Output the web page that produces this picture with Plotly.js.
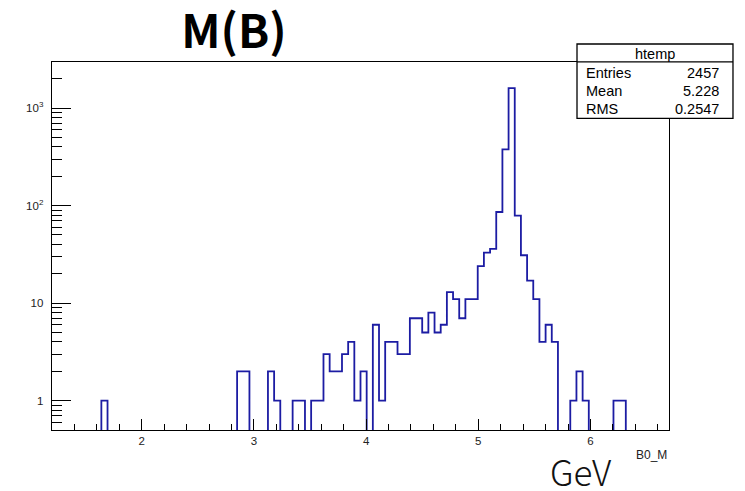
<!DOCTYPE html>
<html>
<head>
<meta charset="utf-8">
<script src="https://cdn.plot.ly/plotly-3.0.1.min.js"></script>
<style>
  html, body { margin: 0; padding: 0; background: #ffffff; }
  #plot { width: 745px; height: 491px; }
</style>
</head>
<body>
<div id="plot"></div>
<script>
// Histogram of B0_M: 100 bins between xMin and xMax
const xMin = 1.2;
const xMax = 6.7;
const binCounts = [
  0, 0, 0, 0, 0, 0, 0, 0, 1, 0,
  0, 0, 0, 0, 0, 0, 0, 0, 0, 0,
  0, 0, 0, 0, 0, 0, 0, 0, 0, 0,
  2, 2, 0, 0, 0, 2, 1, 0, 0, 1,
  1, 0, 1, 1, 3, 2, 2, 3, 4, 1,
  2, 0, 6, 1, 4, 4, 3, 3, 7, 7,
  5, 8, 5, 6, 13, 11, 7, 11, 11, 24,
  33, 36, 86, 378, 1600, 79, 31, 17, 11, 4,
  6, 4, 0, 0, 1, 2, 1, 0, 0, 0,
  0, 1, 1, 0, 0, 0, 0, 0, 0, 0
];

const xTickVals = [2, 3, 4, 5, 6];
const yTickVals = [1, 10, 100, 1000];
const yTickText = ['1', '10', '10<sup>2</sup>', '10<sup>3</sup>'];

const histName = 'htemp';
const statNames = ['Entries', 'Mean', 'RMS'];
const statValues = ['2457', '5.228', '0.2547'];

const titleText = 'M(B)';
const unitText = 'GeV';
const varName = 'B0_M';

// ---- step outline from the bin edges ----
const nBins = binCounts.length;
const binWidth = (xMax - xMin) / nBins;
const edges = [];
for (let i = 0; i <= nBins; i++) edges.push(xMin + i * binWidth);
// empty bins sit below the visible log range so the outline drops to the axis
const emptyLevel = 0.3;
const stepY = binCounts.map(c => (c > 0 ? c : emptyLevel));
stepY.push(stepY[stepY.length - 1]);

// minor ticks on the log axis: 2..9 within each decade
const yMinorVals = [];
for (let d = -1; d <= 3; d++) {
  for (let m = 2; m <= 9; m++) {
    const v = m * Math.pow(10, d);
    if (v > 0.5 && v < 2970) yMinorVals.push(v);
  }
}

const lineBlue = '#1c1ca3';
const frameColor = '#000000';
const labelFont = { family: 'Liberation Sans, Arial, sans-serif', size: 11.5, color: '#222222' };
const statFont = { family: 'Liberation Sans, Arial, sans-serif', size: 14.5, color: '#000000' };

const trace = {
  x: edges,
  y: stepY,
  type: 'scatter',
  mode: 'lines',
  line: { shape: 'hv', color: lineBlue, width: 1.8 },
  hoverinfo: 'skip',
  showlegend: false
};

// stats box geometry, in paper coordinates of the frame
const boxX0 = 0.8509, boxX1 = 1.1037;
const boxY0 = 0.847, boxY1 = 1.0489, boxSep = 1.0005;
const rowY = [0.9693, 0.9212, 0.8715];

const annotations = [
  {
    xref: 'paper', yref: 'paper', x: (boxX0 + boxX1) / 2, y: 1.0217,
    text: histName, showarrow: false, xanchor: 'center', yanchor: 'middle',
    font: statFont
  }
];
statNames.forEach((name, i) => {
  annotations.push({
    xref: 'paper', yref: 'paper', x: 0.8625, y: rowY[i],
    text: name, showarrow: false, xanchor: 'left', yanchor: 'middle', font: statFont
  });
  annotations.push({
    xref: 'paper', yref: 'paper', x: 1.0850, y: rowY[i],
    text: statValues[i], showarrow: false, xanchor: 'right', yanchor: 'middle', font: statFont
  });
});
// unit and variable name under the x axis
annotations.push({
  xref: 'paper', yref: 'paper', x: 0.857, y: -0.109,
  text: unitText, showarrow: false, xanchor: 'center', yanchor: 'middle',
  font: { family: 'Noto Sans CJK JP, Noto Sans, sans-serif', size: 35, color: '#111111', weight: 300 }
});
annotations.push({
  xref: 'paper', yref: 'paper', x: 1.0, y: -0.068,
  text: varName, showarrow: false, xanchor: 'right', yanchor: 'middle',
  font: { family: 'Liberation Sans, Arial, sans-serif', size: 12, color: '#222222' }
});

const shapes = [
  {
    type: 'rect', xref: 'paper', yref: 'paper',
    x0: boxX0, x1: boxX1, y0: boxY0, y1: boxY1,
    fillcolor: '#ffffff', line: { color: frameColor, width: 1.3 }, layer: 'above'
  },
  {
    type: 'line', xref: 'paper', yref: 'paper',
    x0: boxX0, x1: boxX1, y0: boxSep, y1: boxSep,
    line: { color: frameColor, width: 1.3 }, layer: 'above'
  }
];

const layout = {
  width: 745,
  height: 491,
  paper_bgcolor: '#ffffff',
  plot_bgcolor: '#ffffff',
  margin: { l: 52, r: 76, t: 62, b: 61, pad: 0 },
  title: {
    text: '<b>' + titleText + '</b>',
    font: { family: 'Noto Sans CJK JP, Noto Sans, sans-serif', size: 46, color: '#000000' },
    x: 0.314, xanchor: 'center', xref: 'container',
    y: 0.935, yanchor: 'middle', yref: 'container'
  },
  xaxis: {
    range: [xMin, xMax],
    tickmode: 'array',
    tickvals: xTickVals,
    ticks: 'inside',
    ticklen: 11,
    tickwidth: 1,
    tickcolor: frameColor,
    minor: { ticks: 'inside', dtick: 0.2, tick0: 0, ticklen: 6, tickwidth: 1, tickcolor: frameColor },
    showgrid: false,
    zeroline: false,
    showline: true,
    mirror: true,
    linecolor: frameColor,
    linewidth: 1.3,
    tickfont: labelFont,
    ticklabelstandoff: 0
  },
  yaxis: {
    type: 'log',
    range: [Math.log10(0.5), 3.473],
    tickmode: 'array',
    tickvals: yTickVals,
    ticktext: yTickText,
    ticks: 'inside',
    ticklen: 19,
    tickwidth: 1,
    tickcolor: frameColor,
    minor: { ticks: 'inside', tickmode: 'array', tickvals: yMinorVals, ticklen: 10, tickwidth: 1, tickcolor: frameColor },
    showgrid: false,
    zeroline: false,
    showline: true,
    mirror: true,
    linecolor: frameColor,
    linewidth: 1.3,
    tickfont: labelFont,
    ticklabelstandoff: 5
  },
  annotations: annotations,
  shapes: shapes,
  showlegend: false
};

Plotly.newPlot('plot', [trace], layout, { staticPlot: true, displayModeBar: false });
</script>
</body>
</html>
